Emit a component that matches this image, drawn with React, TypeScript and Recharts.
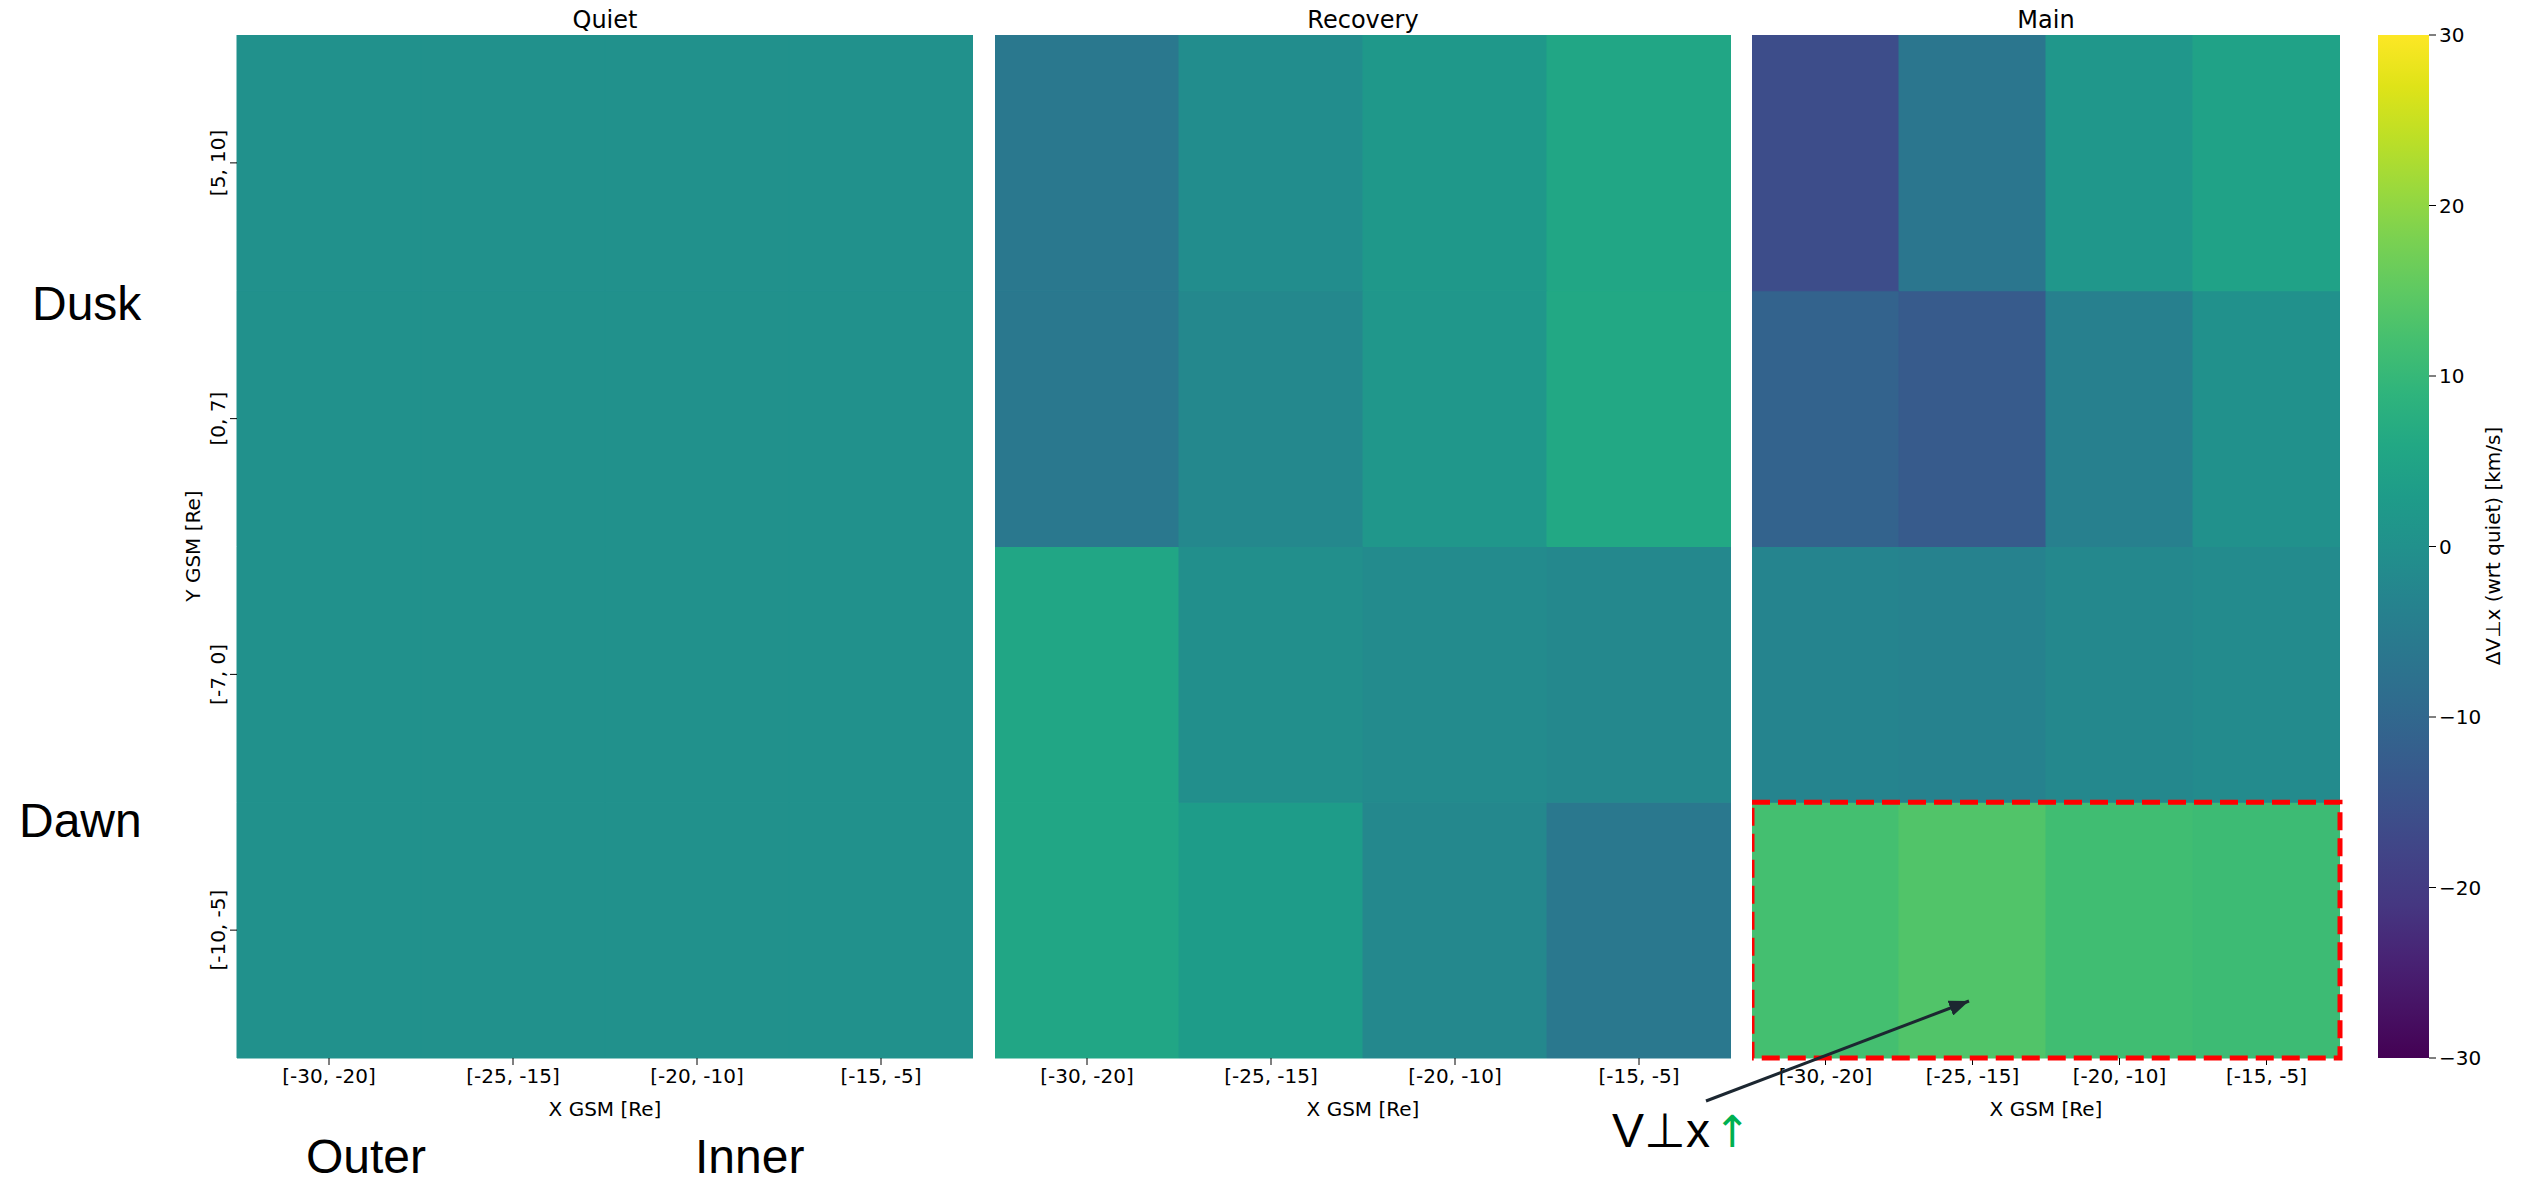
import React from "react";
import { Bar, BarChart, Cell, ReferenceArea, XAxis, YAxis } from "recharts";

// X bins (columns, outer -> inner) and Y bins (rows, listed top -> bottom as drawn)
const X_BINS = ["[-30, -20]", "[-25, -15]", "[-20, -10]", "[-15, -5]"];
const Y_BINS = ["[5, 10]", "[0, 7]", "[-7, 0]", "[-10, -5]"];

// ΔV⊥x wrt quiet [km/s], rows top -> bottom, columns as X_BINS
const QUIET = [
  [0, 0, 0, 0],
  [0, 0, 0, 0],
  [0, 0, 0, 0],
  [0, 0, 0, 0],
];
const RECOVERY = [
  [-6, -1, 2, 5.5],
  [-6, -2, 1.5, 6],
  [5.5, -0.5, -1.5, -2],
  [5.5, 3, -2, -6],
];
const MAIN = [
  [-16, -6.5, 1.5, 4.5],
  [-11, -13, -4, 0],
  [-3, -3.5, -2, -1.5],
  [12, 13.5, 11.5, 11],
];

const CBAR_TICKS = [-30, -20, -10, 0, 10, 20, 30];
const VMIN = -30;
const VMAX = 30;

// matplotlib viridis sampled every 0.05
const VIRIDIS = [
  "#440154", "#471365", "#482475", "#453781", "#414487", "#3b528b",
  "#355f8d", "#2f6c8e", "#2a788e", "#25848e", "#21918c", "#1e9c89",
  "#22a884", "#2fb47c", "#44bf70", "#5ec962", "#7ad151", "#9bd93c",
  "#bddf26", "#dfe318", "#fde725",
];

const hex = (c: string) => [1, 3, 5].map((i) => parseInt(c.slice(i, i + 2), 16));

function viridis(v: number) {
  const t = Math.min(1, Math.max(0, (v - VMIN) / (VMAX - VMIN))) * (VIRIDIS.length - 1);
  const i = Math.min(VIRIDIS.length - 2, Math.floor(t));
  const f = t - i;
  const a = hex(VIRIDIS[i]);
  const b = hex(VIRIDIS[i + 1]);
  const rgb = a.map((x, k) => Math.round(x + (b[k] - x) * f));
  return `rgb(${rgb[0]},${rgb[1]},${rgb[2]})`;
}

const FONT = "DejaVu Sans";
const PLOT_TOP = 35;
const PLOT_H = 1023;
const XAXIS_H = 70;
const Y_AXIS_W = 87;

const yLabel = (v: number) => Y_BINS[Y_BINS.length - 1 - Math.floor(v)];

const YTick = (props: any) => {
  const { x, y, payload } = props;
  const cx = x - 10;
  return (
    <text
      x={cx}
      y={y}
      transform={`rotate(-90 ${cx} ${y})`}
      textAnchor="middle"
      dominantBaseline="central"
      fontSize={20}
      fontFamily={FONT}
      fill="#000"
    >
      {yLabel(payload.value)}
    </text>
  );
};

interface PanelProps {
  title: string;
  values: number[][];
  plotLeft: number;
  plotWidth: number;
  showY?: boolean;
  highlight?: boolean;
}

function Panel({ title, values, plotLeft, plotWidth, showY, highlight }: PanelProps) {
  const yW = showY ? Y_AXIS_W : 0;
  // each column is one stacked bar; every row is one unit tall
  const data = X_BINS.map((bin) => {
    const d: Record<string, string | number> = { bin };
    Y_BINS.forEach((_, k) => (d[`r${k}`] = 1));
    return d;
  });

  return (
    <>
      <div
        style={{
          position: "absolute",
          left: plotLeft,
          top: 0,
          width: plotWidth,
          height: 40,
          lineHeight: "40px",
          textAlign: "center",
          fontSize: 24,
          fontFamily: FONT,
        }}
      >
        {title}
      </div>
      <div style={{ position: "absolute", left: plotLeft - yW, top: PLOT_TOP }}>
        <BarChart
          width={yW + plotWidth}
          height={PLOT_H + XAXIS_H}
          data={data}
          margin={{ top: 0, right: 0, bottom: 0, left: 0 }}
          barCategoryGap={0}
          barGap={0}
        >
          <XAxis
            dataKey="bin"
            height={XAXIS_H}
            axisLine={false}
            tickSize={7}
            tickMargin={4}
            tickLine={{ stroke: "#000" }}
            tick={{ fontSize: 20, fill: "#000", fontFamily: FONT }}
            interval={0}
            label={{
              value: "X GSM [Re]",
              position: "insideBottom",
              offset: 12,
              fontSize: 20,
              fill: "#000",
              fontFamily: FONT,
            }}
          />
          <YAxis
            type="number"
            domain={[0, Y_BINS.length]}
            ticks={[0.5, 1.5, 2.5, 3.5]}
            hide={!showY}
            width={yW}
            axisLine={false}
            tickSize={7}
            tickMargin={2}
            tickLine={{ stroke: "#000" }}
            tick={<YTick />}
          />
          {Y_BINS.map((_, k) => {
            const rowIdx = Y_BINS.length - 1 - k; // stack from the bottom row up
            return (
              <Bar key={k} dataKey={`r${k}`} stackId="cells" isAnimationActive={false}>
                {X_BINS.map((__, ci) => {
                  const c = viridis(values[rowIdx][ci]);
                  return <Cell key={ci} fill={c} stroke={c} strokeWidth={1} />;
                })}
              </Bar>
            );
          })}
        </BarChart>
      </div>
      {highlight && (
        // same plot geometry, drawn on top so the dashed box is not hidden by the cells
        <div style={{ position: "absolute", left: plotLeft - yW, top: PLOT_TOP }}>
          <BarChart
            width={yW + plotWidth + 10}
            height={PLOT_H + XAXIS_H}
            data={data}
            margin={{ top: 0, right: 10, bottom: 0, left: 0 }}
            barCategoryGap={0}
          >
            <XAxis dataKey="bin" height={XAXIS_H} tick={false} tickLine={false} axisLine={false} />
            <YAxis type="number" domain={[0, Y_BINS.length]} hide />
            <Bar dataKey="r0" fill="none" isAnimationActive={false} />
            <ReferenceArea
              x1={X_BINS[0]}
              x2={X_BINS[X_BINS.length - 1]}
              y1={0}
              y2={1}
              ifOverflow="visible"
              fill="none"
              fillOpacity={0}
              stroke="#ff0000"
              strokeWidth={5}
              strokeDasharray="18 8"
            />
          </BarChart>
        </div>
      )}
    </>
  );
}

function ColorBar() {
  const tickFmt = (v: number) => (v < 0 ? `\u2212${-v}` : `${v}`);
  const data = [{ name: "cbar", range: [VMIN, VMAX] }];
  const pad = 15; // room for the end tick labels
  return (
    <div style={{ position: "absolute", left: 2378, top: PLOT_TOP - pad }}>
      <BarChart
        width={51 + 70}
        height={PLOT_H + 2 * pad}
        data={data}
        margin={{ top: pad, right: 0, bottom: pad, left: 0 }}
        barCategoryGap={0}
      >
        <XAxis dataKey="name" hide />
        <YAxis
          type="number"
          orientation="right"
          domain={[VMIN, VMAX]}
          ticks={CBAR_TICKS}
          interval={0}
          width={70}
          axisLine={false}
          tickSize={7}
          tickMargin={3}
          tickLine={{ stroke: "#000" }}
          tick={{ fontSize: 20, fill: "#000", fontFamily: FONT }}
          tickFormatter={tickFmt}
        />
        <Bar dataKey="range" fill="url(#viridisGrad)" isAnimationActive={false} />
      </BarChart>
    </div>
  );
}

const rotatedLabel = (cx: number, cy: number): React.CSSProperties => ({
  position: "absolute",
  left: cx - 300,
  top: cy - 15,
  width: 600,
  height: 30,
  lineHeight: "30px",
  textAlign: "center",
  fontSize: 20,
  fontFamily: FONT,
  transform: "rotate(-90deg)",
  whiteSpace: "nowrap",
});

export default function App() {
  return (
    <div
      style={{
        position: "absolute",
        left: 0,
        top: 0,
        width: 2526,
        height: 1185,
        background: "#fff",
        overflow: "hidden",
      }}
    >
      <svg width={0} height={0} style={{ position: "absolute" }}>
        <defs>
          <linearGradient id="viridisGrad" x1="0" y1="1" x2="0" y2="0">
            {VIRIDIS.map((c, i) => (
              <stop key={i} offset={i / (VIRIDIS.length - 1)} stopColor={c} />
            ))}
          </linearGradient>
          <marker
            id="arrowHead"
            viewBox="0 0 20 16"
            refX="20"
            refY="8"
            markerWidth="20"
            markerHeight="16"
            markerUnits="userSpaceOnUse"
            orient="auto"
          >
            <path d="M0,0 L20,8 L0,16 z" fill="#1c2731" />
          </marker>
        </defs>
      </svg>

      <Panel title="Quiet" values={QUIET} plotLeft={237} plotWidth={736} showY />
      <Panel title="Recovery" values={RECOVERY} plotLeft={995} plotWidth={736} />
      <Panel title="Main" values={MAIN} plotLeft={1752} plotWidth={588} highlight />
      <ColorBar />

      <div style={rotatedLabel(193, 546)}>Y GSM [Re]</div>
      <div style={rotatedLabel(2493, 546)}>ΔV⊥x (wrt quiet) [km/s]</div>

      <svg
        width={2526}
        height={1185}
        style={{ position: "absolute", left: 0, top: 0, pointerEvents: "none" }}
      >
        <g fontFamily="Liberation Sans, Arial" fontSize={48} fill="#000">
          <text x={32} y={320}>Dusk</text>
          <text x={19} y={837}>Dawn</text>
          <text x={306} y={1173}>Outer</text>
          <text x={695} y={1173}>Inner</text>
          <text x={1612} y={1147}>V⊥x</text>
          <text x={1714} y={1147} fill="#00b050" fontFamily={FONT} fontSize={44}>↑</text>
        </g>
        <line
          x1={1706}
          y1={1101}
          x2={1969}
          y2={1001}
          stroke="#1c2731"
          strokeWidth={3}
          markerEnd="url(#arrowHead)"
        />
      </svg>
    </div>
  );
}
